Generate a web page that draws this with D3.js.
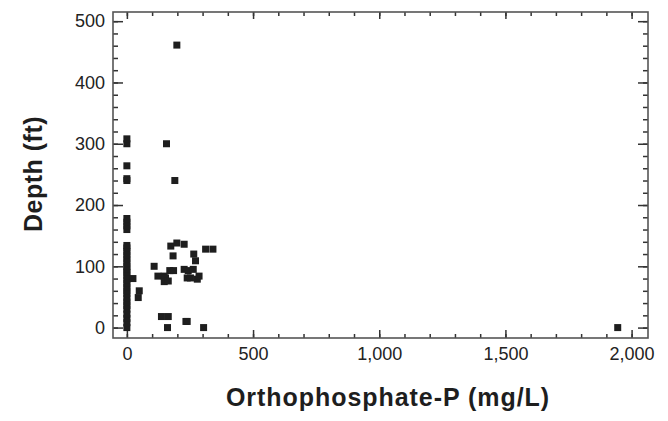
<!DOCTYPE html>
<html>
<head>
<meta charset="utf-8">
<script src="https://cdn.jsdelivr.net/npm/d3@7"></script>
<style>
  body { margin: 0; background: #fff; }
  svg { display: block; }
</style>
</head>
<body>
<svg></svg>
<script>
// orthophosphate-P (mg/L) and depth (ft), one entry per sample
const phosphate = [
  0, 0, 0, 0, 0, 0, 0, 0, 0, 0, 0, 0, 0, 0, 0, 0, 0, 0, 0, 0, 0, 0, 0,
  0, 0, 0, 0,
  0, 0, 0, 0, 0,
  24, 49, 45, 108, 123, 148, 153, 148, 164, 170, 185, 174, 198, 183, 227,
  265, 272, 312, 341, 227, 243, 263, 239, 252, 279, 286,
  137, 164, 161, 234, 239, 304, 190, 198, 157, 1945
];
const depth = [
  0, 8, 15, 22, 30, 36, 42, 48, 55, 60, 66, 72, 78, 84, 90, 95, 100, 106, 112, 118, 124, 130, 134,
  160, 166, 172, 178,
  240, 243, 264, 300, 308,
  80, 60, 49, 100, 84, 84, 81, 75, 76, 93, 93, 133, 138, 117, 136,
  120, 109, 128, 128, 95, 93, 95, 81, 81, 79, 84,
  18, 18, 0, 10, 10, 0, 240, 461, 300, 0
];

const xTicks = [0, 500, 1000, 1500, 2000];
const yTicks = [0, 100, 200, 300, 400, 500];
const xMinor = d3.range(0, 2001, 100);
const yMinor = d3.range(0, 501, 20);

const data = phosphate.map((v, i) => ({ p: v, d: depth[i] }));

var svgWidth = 668,
    svgHeight = 421;

var margin = { top: 12, right: 20, bottom: 83, left: 113 };
var width = svgWidth - margin.left - margin.right;
var height = svgHeight - margin.top - margin.bottom;

var svg = d3.select("svg")
    .attr("width", svgWidth)
    .attr("height", svgHeight);

var g = svg.append("g")
    .attr("transform", "translate(" + margin.left + "," + margin.top + ")");

var x = d3.scaleLinear().domain([-55, 2065]).range([0, width]);
var y = d3.scaleLinear().domain([-17, 515]).range([height, 0]);

var fmt = d3.format(",");

// minor ticks, all four sides, pointing inward
g.append("g")
    .attr("transform", "translate(0," + height + ")")
    .call(d3.axisBottom(x).tickValues(xMinor).tickSize(-4).tickFormat(""));
g.append("g")
    .call(d3.axisTop(x).tickValues(xMinor).tickSize(-4).tickFormat(""));
g.append("g")
    .call(d3.axisLeft(y).tickValues(yMinor).tickSize(-5).tickFormat(""));
g.append("g")
    .attr("transform", "translate(" + width + ",0)")
    .call(d3.axisRight(y).tickValues(yMinor).tickSize(-5).tickFormat(""));

// major ticks
g.append("g")
    .attr("transform", "translate(0," + height + ")")
    .call(d3.axisBottom(x).tickValues(xTicks).tickSize(-8).tickPadding(9).tickFormat(fmt));
g.append("g")
    .call(d3.axisTop(x).tickValues(xTicks).tickSize(-7).tickFormat(""));
g.append("g")
    .call(d3.axisLeft(y).tickValues(yTicks).tickSize(-10).tickPadding(8));
g.append("g")
    .attr("transform", "translate(" + width + ",0)")
    .call(d3.axisRight(y).tickValues(yTicks).tickSize(-10).tickFormat(""));

g.selectAll(".domain").remove();
g.selectAll(".tick line")
    .attr("stroke", "#333")
    .attr("stroke-width", 1.5);
g.selectAll(".tick text")
    .attr("font-size", 18)
    .attr("font-family", "Liberation Sans, Arial, sans-serif")
    .attr("fill", "#222");

// frame
g.append("rect")
    .attr("width", width)
    .attr("height", height)
    .attr("fill", "none")
    .attr("stroke", "#555")
    .attr("stroke-width", 1.6);

// points
var s = 7;
g.selectAll("rect.pt")
    .data(data)
    .enter()
    .append("rect")
    .attr("class", "pt")
    .attr("x", d => x(d.p) - s / 2)
    .attr("y", d => y(d.d) - s / 2)
    .attr("width", s)
    .attr("height", s)
    .attr("fill", "#1e1e1e");

// axis titles
svg.append("text")
    .attr("x", 388)
    .attr("y", 406)
    .attr("text-anchor", "middle")
    .attr("font-family", "Liberation Sans, Arial, sans-serif")
    .attr("font-weight", "bold")
    .attr("font-size", 25)
    .attr("letter-spacing", 0.95)
    .attr("fill", "#1e1e1e")
    .text("Orthophosphate-P (mg/L)");

svg.append("text")
    .attr("transform", "translate(42,174) rotate(-90)")
    .attr("text-anchor", "middle")
    .attr("font-family", "Liberation Sans, Arial, sans-serif")
    .attr("font-weight", "bold")
    .attr("font-size", 25)
    .attr("letter-spacing", 0.5)
    .attr("fill", "#1e1e1e")
    .text("Depth (ft)");
</script>
</body>
</html>
